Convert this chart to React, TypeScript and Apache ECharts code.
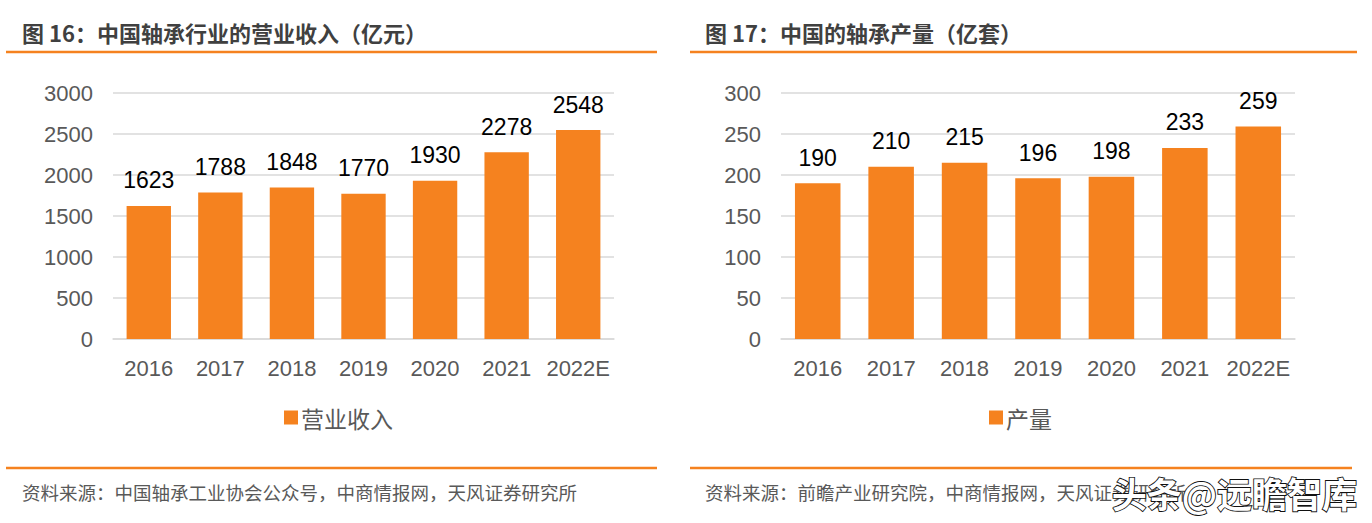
import React, { useEffect, useRef } from "react";
import * as echarts from "echarts";

const years = ["2016", "2017", "2018", "2019", "2020", "2021", "2022E"];
const revenue = [1623, 1788, 1848, 1770, 1930, 2278, 2548];
const output = [190, 210, 215, 196, 198, 233, 259];
const revenueName = "营业收入";
const outputName = "产量";
const titleLeft = "图 16：中国轴承行业的营业收入（亿元）";
const titleRight = "图 17：中国的轴承产量（亿套）";
const sourceLeft = "资料来源：中国轴承工业协会公众号，中商情报网，天风证券研究所";
const sourceRight = "资料来源：前瞻产业研究院，中商情报网，天风证券研究所";
const watermark = "头条@远瞻智库";

const ORANGE = "#F5821F";
const AXIS_TEXT = "#595959";
const GRID = "#d9d9d9";
const LATIN = "'Liberation Sans', Arial, 'Noto Sans CJK SC', sans-serif";
const CJK = "'Noto Sans CJK SC', 'Liberation Sans', sans-serif";

export default function App() {
  const ref = useRef<HTMLDivElement>(null);
  useEffect(() => {
    document.body.style.margin = "0";
    const chart = echarts.init(ref.current!, null, { renderer: "svg" });
    const xAxisBase = (gridIndex: number) => ({
      type: "category" as const,
      gridIndex,
      data: years,
      axisTick: { show: false },
      axisLine: { lineStyle: { color: GRID, width: 1.5 } },
      axisLabel: { color: AXIS_TEXT, fontSize: 22, fontFamily: LATIN, margin: 18, interval: 0 },
    });
    const yAxisBase = (gridIndex: number, max: number, interval: number) => ({
      type: "value" as const,
      gridIndex,
      min: 0,
      max,
      interval,
      axisLine: { show: false },
      axisTick: { show: false },
      splitLine: { lineStyle: { color: GRID, width: 1.5 } },
      axisLabel: {
        color: AXIS_TEXT,
        fontSize: 22,
        fontFamily: LATIN,
        margin: 20,
        formatter: (v: number) => String(v),
      },
    });
    const seriesBase = (name: string, data: number[], idx: number) => ({
      name,
      type: "bar" as const,
      xAxisIndex: idx,
      yAxisIndex: idx,
      data,
      barWidth: "62%",
      itemStyle: { color: ORANGE },
      label: {
        show: true,
        position: "top" as const,
        distance: 14,
        color: "#000",
        fontSize: 23,
        fontFamily: LATIN,
      },
    });
    const legendBase = (name: string, left: number) => ({
      data: [name],
      left,
      top: 401,
      itemWidth: 14,
      itemHeight: 14,
      itemGap: 4,
      icon: "rect",
      textStyle: { color: AXIS_TEXT, fontSize: 23, fontFamily: CJK, padding: [0, 0, 0, -2] },
    });
    chart.setOption({
      animation: false,
      grid: [
        { left: 113, top: 93, width: 501, height: 246 },
        { left: 781, top: 93, width: 514, height: 246 },
      ],
      xAxis: [xAxisBase(0), xAxisBase(1)],
      yAxis: [yAxisBase(0, 3000, 500), yAxisBase(1, 300, 50)],
      legend: [legendBase(revenueName, 279), legendBase(outputName, 984)],
      series: [seriesBase(revenueName, revenue, 0), seriesBase(outputName, output, 1)],
      graphic: [
        {
          type: "text",
          x: 22,
          y: 32,
          style: { text: titleLeft, fill: "#404040", font: `bold 22px ${CJK}`, verticalAlign: "middle" },
        },
        {
          type: "text",
          x: 705,
          y: 32,
          style: { text: titleRight, fill: "#404040", font: `bold 22px ${CJK}`, verticalAlign: "middle" },
        },
        { type: "line", shape: { x1: 6, y1: 52, x2: 657, y2: 52 }, style: { stroke: ORANGE, lineWidth: 2.5 } },
        { type: "line", shape: { x1: 690, y1: 52, x2: 1357, y2: 52 }, style: { stroke: ORANGE, lineWidth: 2.5 } },
        { type: "line", shape: { x1: 6, y1: 468, x2: 657, y2: 468 }, style: { stroke: ORANGE, lineWidth: 2.5 } },
        { type: "line", shape: { x1: 690, y1: 468, x2: 1352, y2: 468 }, style: { stroke: ORANGE, lineWidth: 2.5 } },
        {
          type: "text",
          x: 22,
          y: 492,
          style: { text: sourceLeft, fill: AXIS_TEXT, font: `18.5px ${CJK}`, verticalAlign: "middle" },
        },
        {
          type: "text",
          x: 705,
          y: 492,
          style: { text: sourceRight, fill: AXIS_TEXT, font: `18.5px ${CJK}`, verticalAlign: "middle" },
        },
        {
          type: "text",
          x: 1357,
          y: 492,
          z: 100,
          style: {
            text: watermark,
            fill: "#ffffff",
            stroke: "#111111",
            lineWidth: 1.8,
            font: `bold 35px ${CJK}`,
            align: "right",
            verticalAlign: "middle",
          },
        },
      ],
    });
    return () => chart.dispose();
  }, []);
  return <div ref={ref} style={{ width: 1372, height: 523 }} />;
}
